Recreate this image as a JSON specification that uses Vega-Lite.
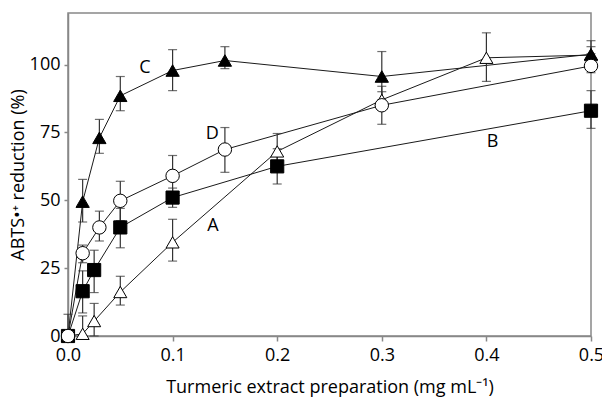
{
  "$schema": "https://vega.github.io/schema/vega-lite/v6.json",
  "width": 523,
  "height": 323,
  "autosize": {"type": "none"},
  "padding": {"left": 68, "top": 13, "right": 11, "bottom": 62},
  "config": {
    "font": "Open Sans",
    "view": {"stroke": "#888888", "strokeWidth": 1.5},
    "axis": {
      "domainColor": "#888888",
      "domainWidth": 1.5,
      "tickColor": "#888888",
      "tickWidth": 1.5,
      "grid": false,
      "labelFlush": false,
      "labelFont": "Open Sans",
      "labelFontSize": 18,
      "labelColor": "#000000",
      "titleFont": "Open Sans",
      "titleFontSize": 18,
      "titleFontWeight": "normal",
      "titleColor": "#000000"
    }
  },
  "datasets": {
    "pts": [
      {"s": "A", "x": 0, "y": 0, "lo": 0, "hi": 0},
      {"s": "A", "x": 0.014, "y": 0.8, "lo": 0, "hi": 7.4},
      {"s": "A", "x": 0.025, "y": 5.5, "lo": 0, "hi": 12},
      {"s": "A", "x": 0.05, "y": 16.2, "lo": 11.4, "hi": 22},
      {"s": "A", "x": 0.1, "y": 34.5, "lo": 27.6, "hi": 43},
      {"s": "A", "x": 0.2, "y": 68, "lo": 62, "hi": 74.6},
      {"s": "A", "x": 0.3, "y": 87, "lo": 84, "hi": 90},
      {"s": "A", "x": 0.4, "y": 102.5, "lo": 93.8, "hi": 111.7},
      {"s": "A", "x": 0.5, "y": 103.5, "lo": 100, "hi": 106.6},
      {"s": "B", "x": 0, "y": 0, "lo": 0, "hi": 8},
      {"s": "B", "x": 0.014, "y": 16.5, "lo": 8.5, "hi": 24},
      {"s": "B", "x": 0.025, "y": 24.3, "lo": 16, "hi": 31.6},
      {"s": "B", "x": 0.05, "y": 40, "lo": 32.5, "hi": 47},
      {"s": "B", "x": 0.1, "y": 51, "lo": 47.4, "hi": 54.5},
      {"s": "B", "x": 0.2, "y": 62.5, "lo": 56, "hi": 69},
      {"s": "B", "x": 0.5, "y": 83, "lo": 76.5, "hi": 90.4},
      {"s": "C", "x": 0, "y": 0, "lo": 0, "hi": 0},
      {"s": "C", "x": 0.014, "y": 49.5, "lo": 42, "hi": 57.7},
      {"s": "C", "x": 0.03, "y": 73, "lo": 67.3, "hi": 79.8},
      {"s": "C", "x": 0.05, "y": 88.5, "lo": 83, "hi": 95.6},
      {"s": "C", "x": 0.1, "y": 97.8, "lo": 90.4, "hi": 105.5},
      {"s": "C", "x": 0.15, "y": 101.5, "lo": 98.5, "hi": 106.6},
      {"s": "C", "x": 0.3, "y": 95.6, "lo": 87, "hi": 104.8},
      {"s": "C", "x": 0.5, "y": 103.8, "lo": 100.5, "hi": 108.8},
      {"s": "D", "x": 0, "y": 0, "lo": 0, "hi": 0},
      {"s": "D", "x": 0.014, "y": 30.5, "lo": 27, "hi": 33.5},
      {"s": "D", "x": 0.03, "y": 40, "lo": 35, "hi": 46},
      {"s": "D", "x": 0.05, "y": 49.8, "lo": 42.5, "hi": 57},
      {"s": "D", "x": 0.1, "y": 59, "lo": 52, "hi": 66.5},
      {"s": "D", "x": 0.15, "y": 68.7, "lo": 60.3, "hi": 76.8},
      {"s": "D", "x": 0.3, "y": 85, "lo": 78, "hi": 92},
      {"s": "D", "x": 0.5, "y": 99.5, "lo": 97, "hi": 104}
    ],
    "labels": [
      {"t": "A", "x": 0.1386, "y": 40.4},
      {"t": "B", "x": 0.406, "y": 71.3},
      {"t": "C", "x": 0.0736, "y": 98.9},
      {"t": "D", "x": 0.138, "y": 74.6}
    ]
  },
  "layer": [
    {
      "data": {"name": "pts"},
      "mark": {"type": "line", "color": "#1a1a1a", "strokeWidth": 1},
      "encoding": {
        "x": {
          "field": "x", "type": "quantitative",
          "scale": {"domain": [0, 0.5], "nice": false, "zero": false},
          "axis": {
            "title": "Turmeric extract preparation (mg mL⁻¹)",
            "values": [0, 0.1, 0.2, 0.3, 0.4, 0.5],
            "format": ".1f",
            "tickSize": 5,
            "labelPadding": 5,
            "titlePadding": 14
          }
        },
        "y": {
          "field": "y", "type": "quantitative",
          "scale": {"domain": [0, 119], "nice": false},
          "axis": {
            "title": "ABTS•⁺ reduction (%)",
            "values": [0, 25, 50, 75, 100],
            "tickSize": 4,
            "labelPadding": 4,
            "titlePadding": 2
          }
        },
        "detail": {"field": "s"}
      }
    },
    {
      "data": {"name": "pts"},
      "mark": {"type": "rule", "color": "#333333", "strokeWidth": 1.2},
      "encoding": {
        "x": {"field": "x", "type": "quantitative"},
        "y": {"field": "lo", "type": "quantitative"},
        "y2": {"field": "hi"}
      }
    },
    {
      "data": {"name": "pts"},
      "mark": {"type": "tick", "orient": "horizontal", "color": "#333333", "thickness": 1.2, "size": 9},
      "encoding": {
        "x": {"field": "x", "type": "quantitative"},
        "y": {"field": "hi", "type": "quantitative"}
      }
    },
    {
      "data": {"name": "pts"},
      "mark": {"type": "tick", "orient": "horizontal", "color": "#333333", "thickness": 1.2, "size": 9},
      "encoding": {
        "x": {"field": "x", "type": "quantitative"},
        "y": {"field": "lo", "type": "quantitative"}
      }
    },
    {
      "data": {"name": "pts"},
      "mark": {"type": "point", "filled": false, "strokeWidth": 1, "opacity": 1},
      "encoding": {
        "x": {"field": "x", "type": "quantitative"},
        "y": {"field": "y", "type": "quantitative"},
        "shape": {
          "field": "s", "type": "nominal",
          "scale": {"domain": ["A", "B", "C", "D"], "range": ["triangle-up", "square", "triangle-up", "circle"]},
          "legend": null
        },
        "fill": {
          "field": "s", "type": "nominal",
          "scale": {"domain": ["A", "B", "C", "D"], "range": ["#ffffff", "#000000", "#000000", "#ffffff"]},
          "legend": null
        },
        "stroke": {"value": "#000000"},
        "size": {
          "field": "s", "type": "nominal",
          "scale": {"domain": ["A", "B", "C", "D"], "range": [170, 180, 170, 140]},
          "legend": null
        }
      }
    },
    {
      "data": {"name": "labels"},
      "mark": {"type": "text", "font": "Open Sans", "fontSize": 18, "color": "#000000"},
      "encoding": {
        "x": {"field": "x", "type": "quantitative"},
        "y": {"field": "y", "type": "quantitative"},
        "text": {"field": "t"}
      }
    }
  ]
}
